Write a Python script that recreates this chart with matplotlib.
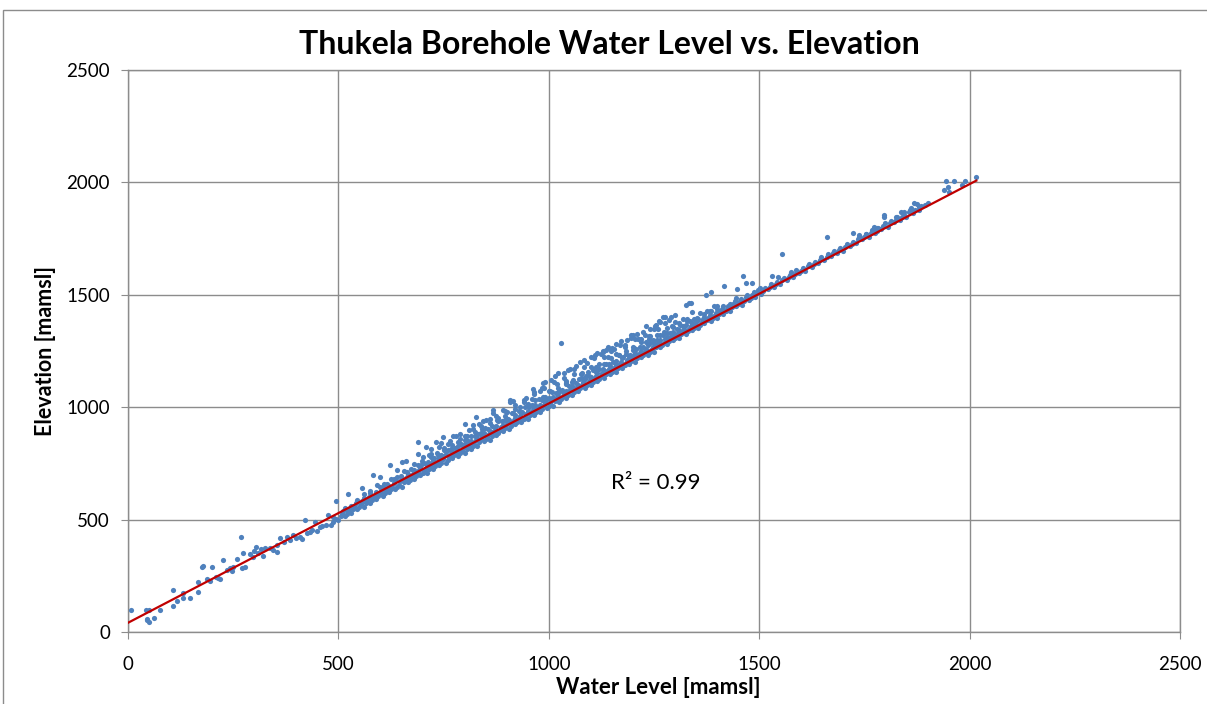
import matplotlib
matplotlib.use("Agg")
import matplotlib.pyplot as plt
from matplotlib.patches import Rectangle

# ---------------- data ----------------
x_ticks = [0, 500, 1000, 1500, 2000, 2500]
y_ticks = [0, 500, 1000, 1500, 2000, 2500]

# sparse low-elevation boreholes
low_wl = [6, 43, 51, 45, 49, 44, 62, 76, 106, 108, 117, 130, 130, 147, 167, 167, 175, 179, 187, 195,
          199, 210, 214, 218, 225, 236, 242, 247, 250, 258, 268, 270, 274, 278, 290, 296, 300, 305, 310, 316,
          320, 325, 337, 345, 353, 353, 361, 370, 377, 385, 392, 400, 408, 414, 420, 426, 432, 438, 444, 450,
          456, 462, 470, 476, 482, 487, 487, 495]
low_elev = [98, 98, 98, 53, 46, 60, 64, 98, 116, 187, 139, 172, 150, 150, 224, 179, 290, 292, 235, 227,
            288, 246, 239, 234, 320, 275, 285, 270, 290, 325, 421, 285, 353, 290, 345, 335, 360, 380, 350, 370,
            340, 375, 372, 365, 387, 357, 417, 400, 424, 410, 431, 420, 424, 415, 498, 440, 446, 455, 491, 450,
            469, 470, 475, 520, 478, 513, 491, 503]

# dense band, lowest layer
band1_wl = [500, 515, 530, 545, 560, 575, 590, 605, 620, 635, 650, 665, 680, 695, 710, 725, 740, 755, 770, 785,
            800, 815, 830, 845, 860, 875, 890, 905, 920, 935, 950, 965, 980, 995, 1010, 1025, 1040, 1055, 1070, 1085,
            1100, 1115, 1130, 1145, 1160, 1175, 1190, 1205, 1220, 1235, 1250, 1265, 1280, 1295, 1310, 1325, 1340, 1355,
            1370, 1385, 1400, 1415, 1430, 1445, 1460, 1475, 1490, 1505, 1520, 1535, 1550, 1565, 1580, 1595, 1610, 1625,
            1640, 1655, 1670, 1685, 1700, 1715, 1730, 1745, 1760, 1775, 1790, 1805, 1820, 1835, 1850, 1865, 1880, 1895]
band1_elev = [497, 516, 529, 548, 556, 575, 592, 603, 624, 634, 647, 666, 679, 698, 706, 725, 742, 753, 774, 784,
              797, 816, 829, 848, 856, 875, 892, 903, 924, 934, 947, 966, 979, 998, 1006, 1025, 1042, 1053, 1074, 1084,
              1097, 1116, 1129, 1148, 1156, 1175, 1192, 1203, 1224, 1234, 1247, 1266, 1279, 1298, 1306, 1325, 1342, 1353,
              1374, 1384, 1397, 1416, 1429, 1448, 1456, 1475, 1492, 1503, 1524, 1534, 1547, 1566, 1579, 1598, 1606, 1625,
              1642, 1653, 1674, 1684, 1697, 1716, 1729, 1748, 1756, 1775, 1792, 1803, 1824, 1834, 1847, 1866, 1879, 1898]

bandA_wl = [505, 520, 535, 550, 565, 580, 595, 610, 625, 640, 655, 670, 685, 700, 715, 730, 745, 760, 775, 790,
            805, 820, 835, 850, 865, 880, 895, 910, 925, 940, 955, 970, 985, 1000, 1015, 1030, 1045, 1060, 1075, 1090,
            1105, 1120, 1135, 1150, 1165, 1180, 1195, 1210, 1225, 1240, 1255, 1270, 1285, 1300, 1315, 1330, 1345, 1360,
            1375, 1390, 1405, 1420, 1435, 1450, 1465, 1480, 1495, 1510, 1525, 1540, 1555, 1570, 1585, 1600, 1615, 1630,
            1645, 1660, 1675, 1690, 1705, 1720, 1735, 1750, 1765, 1780, 1795, 1810, 1825, 1840, 1855, 1870, 1885]
bandA_elev = [514, 525, 547, 557, 576, 586, 605, 618, 634, 645, 667, 677, 696, 706, 725, 738, 754, 765, 787, 797,
              816, 826, 845, 858, 874, 885, 907, 917, 936, 946, 965, 978, 994, 1005, 1027, 1037, 1056, 1066, 1085, 1098,
              1114, 1125, 1147, 1157, 1176, 1186, 1205, 1218, 1234, 1245, 1267, 1277, 1296, 1306, 1325, 1338, 1354, 1365,
              1387, 1397, 1416, 1426, 1445, 1458, 1474, 1485, 1507, 1517, 1536, 1546, 1565, 1578, 1594, 1605, 1627, 1637,
              1656, 1666, 1685, 1698, 1714, 1725, 1747, 1757, 1776, 1786, 1805, 1818, 1834, 1845, 1867, 1877, 1896]

band2_wl = [508, 523, 538, 553, 568, 583, 598, 613, 628, 643, 658, 673, 688, 703, 718, 733, 748, 763, 778, 793,
            808, 823, 838, 853, 868, 883, 898, 913, 928, 943, 958, 973, 988, 1003, 1018, 1033, 1048, 1063, 1078, 1093,
            1108, 1123, 1138, 1153, 1168, 1183, 1198, 1213, 1228, 1243, 1258, 1273, 1288, 1303, 1318, 1333, 1348, 1363,
            1378, 1393, 1408, 1423, 1438, 1453, 1468, 1483, 1498, 1513, 1528, 1543, 1558, 1573, 1588, 1603, 1618, 1633,
            1648, 1663, 1678, 1693, 1708, 1723, 1738, 1753, 1768, 1783, 1798, 1813, 1828, 1843, 1858]
band2_elev = [526, 537, 559, 569, 588, 598, 620, 630, 647, 656, 676, 687, 709, 719, 738, 748, 770, 780, 797, 806,
              826, 837, 859, 869, 888, 898, 920, 930, 947, 956, 976, 987, 1009, 1019, 1038, 1048, 1070, 1080, 1097, 1106,
              1126, 1137, 1159, 1169, 1188, 1198, 1220, 1230, 1247, 1256, 1276, 1287, 1309, 1319, 1338, 1348, 1370, 1380,
              1397, 1406, 1426, 1437, 1459, 1469, 1488, 1498, 1520, 1530, 1547, 1556, 1576, 1587, 1609, 1619, 1638, 1648,
              1670, 1680, 1697, 1706, 1726, 1737, 1759, 1769, 1788, 1798, 1820, 1830, 1847, 1856, 1876]

bandB_wl = [512, 527, 542, 557, 572, 587, 602, 617, 632, 647, 662, 677, 692, 707, 722, 737, 752, 767, 782, 797,
            812, 827, 842, 857, 872, 887, 902, 917, 932, 947, 962, 977, 992, 1007, 1022, 1037, 1052, 1067, 1082, 1097,
            1112, 1127, 1142, 1157, 1172, 1187, 1202, 1217, 1232, 1247, 1262, 1277, 1292, 1307, 1322, 1337, 1352, 1367,
            1382, 1397, 1412, 1427, 1442, 1457, 1472, 1487, 1502]
bandB_elev = [539, 550, 572, 582, 601, 611, 629, 640, 662, 672, 691, 701, 719, 730, 752, 762, 781, 791, 809, 820,
              842, 852, 871, 881, 899, 910, 932, 942, 961, 971, 989, 1000, 1022, 1032, 1051, 1061, 1079, 1090, 1112, 1122,
              1141, 1151, 1169, 1180, 1202, 1212, 1231, 1241, 1259, 1270, 1292, 1302, 1321, 1331, 1349, 1360, 1382, 1392,
              1411, 1421, 1439, 1450, 1472, 1482, 1501, 1511, 1529]

band3_wl = [515, 530, 545, 560, 575, 590, 605, 620, 635, 650, 665, 680, 695, 710, 725, 740, 755, 770, 785, 800,
            815, 830, 845, 860, 875, 890, 905, 920, 935, 950, 965, 980, 995, 1010, 1025, 1040, 1055, 1070, 1085, 1100,
            1115, 1130, 1145, 1160, 1175, 1190, 1205, 1220, 1235, 1250, 1265, 1280, 1295, 1310, 1325, 1340, 1355, 1370,
            1385, 1400, 1415, 1430, 1445]
band3_elev = [551, 561, 585, 594, 617, 623, 643, 650, 676, 685, 701, 711, 735, 744, 767, 773, 793, 800, 826, 835,
              851, 861, 885, 894, 917, 923, 943, 950, 976, 985, 1001, 1011, 1035, 1044, 1067, 1073, 1093, 1100, 1126, 1135,
              1151, 1161, 1185, 1194, 1217, 1223, 1243, 1250, 1276, 1285, 1301, 1311, 1335, 1344, 1367, 1373, 1393, 1400,
              1426, 1435, 1451, 1461, 1485]

bandC_wl = [600, 616, 632, 648, 664, 680, 696, 712, 728, 744, 760, 776, 792, 808, 824, 840, 856, 872, 888, 904,
            920, 936, 952, 968, 984, 1000, 1016, 1032, 1048, 1064, 1080, 1096, 1112, 1128, 1144, 1160, 1176, 1192, 1208, 1224,
            1240, 1256, 1272, 1288, 1304, 1320, 1336, 1352, 1368, 1384, 1400]
bandC_elev = [646, 658, 681, 692, 710, 722, 745, 756, 774, 786, 809, 820, 838, 850, 873, 884, 902, 914, 937, 948,
              966, 978, 1001, 1012, 1030, 1042, 1065, 1076, 1094, 1106, 1129, 1140, 1158, 1170, 1193, 1204, 1222, 1234, 1257, 1268,
              1286, 1298, 1321, 1332, 1350, 1362, 1385, 1396, 1414, 1426, 1449]

band4_wl = [560, 576, 592, 608, 624, 640, 656, 672, 688, 704, 720, 736, 752, 768, 784, 800, 816, 832, 848, 864,
            880, 896, 912, 928, 944, 960, 976, 992, 1008, 1024, 1040, 1056, 1072, 1088, 1104, 1120, 1136, 1152, 1168, 1184,
            1200, 1216, 1232, 1248, 1264, 1280, 1296, 1312, 1328, 1344, 1360, 1376, 1392]
band4_elev = [615, 626, 652, 660, 682, 688, 718, 726, 743, 754, 780, 788, 810, 816, 846, 854, 871, 882, 908, 916,
              938, 944, 974, 982, 999, 1010, 1036, 1044, 1066, 1072, 1102, 1110, 1127, 1138, 1164, 1172, 1194, 1200, 1230, 1238,
              1255, 1266, 1292, 1300, 1322, 1328, 1358, 1366, 1383, 1394, 1420, 1428, 1450]

bandD_wl = [680, 698, 716, 734, 752, 770, 788, 806, 824, 842, 860, 878, 896, 914, 932, 950, 968, 986, 1004, 1022,
            1040, 1058, 1076, 1094, 1112, 1130, 1148, 1166, 1184, 1202, 1220, 1238, 1256, 1274, 1292, 1310, 1328]
bandD_elev = [746, 759, 786, 798, 818, 831, 858, 870, 890, 903, 930, 942, 962, 975, 1002, 1014, 1034, 1047, 1074, 1086,
              1106, 1119, 1146, 1158, 1178, 1191, 1218, 1230, 1250, 1263, 1290, 1302, 1322, 1335, 1362, 1374, 1394]

band5_wl = [700, 720, 740, 760, 780, 800, 820, 840, 860, 880, 900, 920, 940, 960, 980, 1000, 1020, 1040, 1060, 1080,
            1100, 1120, 1140, 1160, 1180, 1200, 1220, 1240, 1260, 1280, 1300, 1320, 1340]
band5_elev = [778, 792, 825, 835, 870, 870, 902, 916, 948, 954, 978, 992, 1025, 1035, 1070, 1070, 1102, 1116, 1148, 1154,
              1178, 1192, 1225, 1235, 1270, 1270, 1302, 1316, 1348, 1354, 1378, 1392, 1425]

band6_wl = [820, 844, 868, 892, 916, 940, 964, 988, 1012, 1036, 1060, 1084, 1108, 1132, 1156, 1180, 1204, 1228, 1252, 1276, 1300]
band6_elev = [920, 938, 976, 989, 1028, 1032, 1068, 1086, 1112, 1130, 1168, 1181, 1220, 1224, 1260, 1278, 1304, 1322, 1360, 1373, 1412]

band7_wl = [990, 1022, 1050, 1083, 1110, 1140, 1172, 1200, 1230, 1262]
band7_elev = [1112, 1150, 1172, 1212, 1232, 1268, 1295, 1322, 1360, 1385]

# speckled upper edge of the band
upper_wl = [600, 640, 660, 690, 720, 745, 765, 790, 810, 835, 850, 875, 895, 920, 945, 965, 985,
            1005, 1015, 1035, 1045, 1065, 1075, 1090, 1100, 1115, 1125, 1135, 1150, 1160, 1170, 1185, 1195,
            1210, 1225, 1240, 1255, 1265, 1285]
upper_elev = [690, 720, 760, 790, 815, 840, 850, 880, 900, 925, 945, 960, 985, 1010, 1040, 1060, 1085,
              1120, 1140, 1150, 1165, 1185, 1200, 1195, 1225, 1240, 1235, 1255, 1265, 1280, 1275, 1300, 1310,
              1325, 1335, 1350, 1365, 1380, 1390]

# scattered outliers above the band and the highest boreholes
out_wl = [494, 523, 555, 582, 622, 650, 688, 709, 733, 749, 772, 800, 828, 867, 907, 907, 962, 986, 1028, 1128,
          1148, 1128, 1148, 1196, 1212, 1214, 1239, 1251, 1271, 1275, 1291, 1326, 1334, 1338, 1373, 1386, 1417, 1447, 1462, 1469,
          1483, 1530, 1544, 1553, 1576, 1662, 1722, 1738, 1754, 1770, 1774, 1781, 1797, 1797, 1825, 1837, 1845, 1861, 1868, 1876,
          1880, 1900, 1938, 1944, 1948, 1952, 1963, 1983, 1988, 2015]
out_elev = [584, 612, 639, 698, 743, 755, 847, 824, 847, 869, 872, 924, 958, 988, 1024, 1032, 1080, 1106, 1284, 1247,
            1252, 1251, 1258, 1321, 1302, 1302, 1317, 1348, 1400, 1400, 1403, 1455, 1462, 1465, 1497, 1511, 1541, 1526, 1585, 1554,
            1554, 1584, 1578, 1681, 1600, 1757, 1774, 1766, 1770, 1788, 1803, 1796, 1855, 1845, 1845, 1867, 1867, 1885, 1907, 1904,
            1892, 1907, 1966, 2006, 1981, 1959, 2006, 1988, 2006, 2023]

# linear trend line end points
trend_wl = [0, 2016]
trend_elev = [41, 2008]
r2_text = "R\u00b2 = 0.99"

# ---------------- figure ----------------
water_level = (low_wl + band1_wl + bandA_wl + band2_wl + bandB_wl + band3_wl + bandC_wl + band4_wl + bandD_wl
               + band5_wl + band6_wl + band7_wl + upper_wl + out_wl)
elevation = (low_elev + band1_elev + bandA_elev + band2_elev + bandB_elev + band3_elev + bandC_elev + band4_elev
             + bandD_elev + band5_elev + band6_elev + band7_elev + upper_elev + out_elev)

W, H = 1207, 704
fig = plt.figure(figsize=(W / 100, H / 100), dpi=100)
fig.patch.set_facecolor("white")

left, right, top, bottom = 128, 1180, 70, 632
ax = fig.add_axes([left / W, 1 - bottom / H, (right - left) / W, (bottom - top) / H])

grid_c = "#8C8C8C"
ax.scatter(water_level, elevation, s=14, color="#4F81BD", linewidths=0, zorder=3)
ax.plot(trend_wl, trend_elev, color="#C00000", lw=1.6, zorder=4)

ax.set_xlim(0, 2500)
ax.set_ylim(0, 2500)
ax.set_xticks(x_ticks)
ax.set_yticks(y_ticks)
ax.grid(True, color=grid_c, lw=1, zorder=0)
ax.set_axisbelow(True)
for s in ax.spines.values():
    s.set_color(grid_c)
    s.set_linewidth(1)

font = "Lato"
ax.tick_params(direction="out", length=5, color=grid_c, labelsize=13.5, labelcolor="black")
ax.tick_params(axis="x", pad=12)
ax.tick_params(axis="y", pad=8)
for lbl in ax.get_xticklabels() + ax.get_yticklabels():
    lbl.set_fontfamily(font)

ax.text(1254, 663, r2_text, ha="center", va="center", fontsize=16, family=font, zorder=5)

fig.text(609 / W, 1 - 45 / H, "Thukela Borehole Water Level vs. Elevation", ha="center", va="center",
         fontsize=23, fontweight="bold", family=font)
fig.text(658 / W, 1 - 688 / H, "Water Level [mamsl]", ha="center", va="center",
         fontsize=16, fontweight="bold", family=font)
fig.text(45 / W, 1 - 351 / H, "Elevation [mamsl]", ha="center", va="center", rotation=90,
         fontsize=15.5, fontweight="bold", family=font)

fig.patches.append(Rectangle((3 / W, -0.01), 1.0, 1 - 10 / H + 0.01, transform=fig.transFigure,
                             fill=False, edgecolor="#8C8C8C", lw=1))

fig.savefig("out.png", dpi=100)
